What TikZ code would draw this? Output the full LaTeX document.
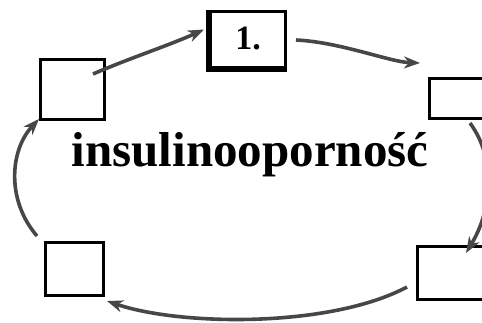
\documentclass[tikz,border=0pt]{standalone}
\usepackage{fontspec}
\setmainfont{Liberation Serif}
\usetikzlibrary{arrows.meta}
\begin{document}
\begin{tikzpicture}[x=1pt,y=-1pt,
  box/.style={draw=black,line width=3pt,inner sep=0pt,anchor=north west},
  cyc/.style={draw=black!72,line width=3.6pt,-{Stealth[length=16pt,width=12pt,inset=5pt]}}]
\useasboundingbox (0,0) rectangle (482,322);
\fill[white] (0,0) rectangle (482,322);
\node[box,minimum width=75pt,minimum height=56pt] (b1) at (209,10) {};
\node[font=\bfseries] (n1) at ([yshift=1pt]b1.center) {\fontsize{34}{34}\selectfont 1.};
\draw[line width=4pt] ([xshift=-1pt]b1.north west) -- ([xshift=-1pt,yshift=-1pt]b1.south west) -- ([yshift=-1pt]b1.south east);
\node[box,minimum width=64pt,minimum height=60pt] (lt) at (39,58) {};
\node[box,minimum width=70pt,minimum height=40pt] (rt) at (428,77) {};
\node[box,minimum width=75pt,minimum height=53pt] (rb) at (416,245) {};
\node[box,minimum width=58pt,minimum height=53pt] (lb) at (44,241) {};
\node[font=\bfseries] (txt) at (250,155) {\fontsize{49}{49}\selectfont insulinooporność};
\coordinate (a1s) at (93,74);
\draw[cyc] (a1s) .. controls (130,58) and (170,45) .. ([xshift=-5pt,yshift=10pt]b1.west);
\coordinate (a2s) at (296,40);
\draw[cyc] (a2s) .. controls (340,42) and (390,62) .. ([xshift=-8pt,yshift=14pt]rt.north west);
\coordinate (a3s) at (470,123);
\draw[cyc] (a3s) .. controls (497,160) and (492,210) .. ([xshift=50pt,yshift=-8pt]rb.north west);
\coordinate (a4s) at (407,287);
\draw[cyc] (a4s) .. controls (330,328) and (180,326) .. ([xshift=2pt,yshift=-4pt]lb.south east);
\coordinate (a5s) at (37,236);
\draw[cyc] (a5s) .. controls (6,200) and (10,150) .. ([yshift=2pt]lt.south west);
\end{tikzpicture}
\end{document}
